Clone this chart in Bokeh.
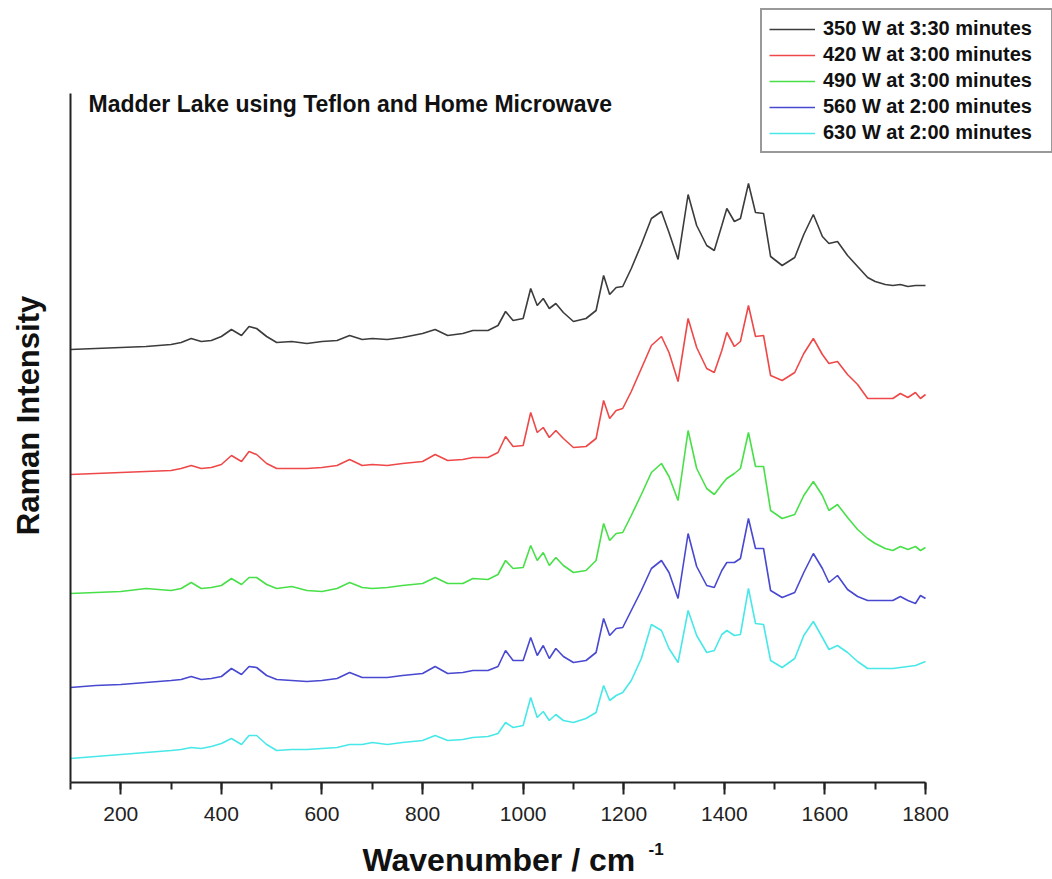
from math import pi

from bokeh.embed import file_html
from bokeh.models import FixedTicker, Label, Range1d, SingleIntervalTicker
from bokeh.plotting import figure
from bokeh.resources import INLINE

# Raman spectra of madder lake prepared at different microwave power settings.
# Intensities are in arbitrary units, already offset vertically for stacking.
wavenumber = [
    100, 150, 200, 250, 300, 320, 340, 360, 380, 400,
    420, 440, 455, 470, 490, 510, 540, 570, 600, 630,
    655, 680, 700, 730, 760, 800, 825, 850, 880, 900,
    930, 950, 965, 980, 1000, 1015, 1028, 1040, 1052, 1065,
    1080, 1100, 1125, 1145, 1160, 1172, 1185, 1198, 1215, 1235,
    1255, 1275, 1290, 1308, 1328, 1345, 1365, 1380, 1395, 1405,
    1420, 1432, 1448, 1462, 1478, 1492, 1515, 1540, 1558, 1577,
    1595, 1608, 1625, 1645, 1665, 1685, 1700, 1720, 1735, 1750,
    1765, 1780, 1790, 1800,
]

w350 = [
    433, 434, 435, 436, 438, 440, 444, 441, 442, 446,
    453, 447, 456, 454, 446, 440, 441, 439, 441, 442,
    447, 443, 444, 443, 445, 449, 453, 447, 449, 452,
    452, 457, 471, 462, 464, 494, 477, 484, 474, 479,
    470, 461, 464, 472, 507, 488, 495, 496, 514, 538,
    564, 571, 550, 523, 588, 557, 537, 532, 557, 574,
    561, 564, 599, 570, 569, 526, 517, 525, 548, 568,
    546, 539, 541, 527, 516, 505, 501, 498, 497, 498,
    496, 497, 497, 497,
]

w420 = [
    308, 309, 310, 311, 312, 314, 317, 314, 315, 318,
    327, 321, 331, 328, 319, 314, 314, 314, 315, 317,
    323, 317, 318, 317, 319, 321, 328, 322, 323, 325,
    325, 330, 346, 336, 337, 370, 350, 355, 345, 352,
    344, 335, 336, 344, 382, 364, 372, 374, 391, 414,
    437, 446, 430, 401, 464, 435, 414, 410, 432, 450,
    436, 441, 477, 446, 447, 407, 402, 410, 429, 444,
    428, 419, 421, 408, 398, 384, 384, 384, 384, 389,
    385, 390, 384, 388,
]

w490 = [
    189, 190, 191, 194, 192, 194, 200, 194, 195, 197,
    204, 198, 205, 205, 198, 194, 196, 192, 191, 194,
    200, 195, 194, 195, 197, 199, 205, 199, 199, 204,
    203, 208, 222, 214, 215, 237, 222, 230, 217, 225,
    217, 210, 212, 222, 259, 242, 249, 250, 267, 288,
    310, 319, 306, 282, 352, 314, 294, 288, 298, 304,
    309, 314, 350, 316, 316, 272, 264, 268, 287, 301,
    287, 272, 278, 265, 253, 244, 239, 234, 232, 236,
    233, 236, 232, 235,
]

w560 = [
    95, 97, 98, 100, 102, 103, 106, 103, 104, 106,
    114, 108, 116, 115, 107, 103, 102, 101, 102, 104,
    110, 105, 105, 105, 107, 109, 116, 109, 110, 112,
    112, 116, 132, 122, 122, 145, 127, 137, 124, 134,
    126, 120, 122, 130, 164, 147, 154, 155, 172, 192,
    214, 222, 210, 184, 249, 216, 197, 195, 212, 220,
    220, 224, 264, 234, 234, 192, 185, 190, 210, 229,
    214, 200, 207, 193, 186, 182, 182, 182, 182, 186,
    182, 179, 187, 184,
]

w630 = [
    24, 26, 28, 30, 32, 33, 35, 34, 36, 39,
    44, 38, 47, 47, 38, 32, 33, 33, 34, 35,
    38, 38, 40, 38, 40, 42, 47, 42, 43, 45,
    46, 49, 60, 55, 57, 85, 65, 71, 62, 68,
    62, 60, 64, 70, 97, 82, 87, 90, 102, 124,
    158, 152, 134, 120, 172, 147, 130, 132, 148, 152,
    147, 148, 194, 159, 158, 122, 115, 124, 147, 161,
    145, 133, 137, 130, 121, 114, 114, 114, 114, 115,
    116, 117, 119, 121,
]

series_labels = [
    "350 W at 3:30 minutes",
    "420 W at 3:00 minutes",
    "490 W at 3:00 minutes",
    "560 W at 2:00 minutes",
    "630 W at 2:00 minutes",
]
series_values = [w350, w420, w490, w560, w630]
series_colors = ["#3c3c3c", "#ee4848", "#48e048", "#4848d0", "#48e8e8"]

x_bounds = (100, 1800)
y_bounds = (0, 689)

FONT = "Liberation Sans"
TEXT = "#111111"
AXIS = "#222222"

# Canvas geometry (px): the data frame fills the canvas to the right and top
# edges so the legend and the inner title are never clipped; the axes are
# limited to the data bounds.
W, H = 1052, 879
LEFT, BOTTOM = 70, 97
AXIS_RIGHT_PX = 925
AXIS_TOP_PX = 93

x_scale = (AXIS_RIGHT_PX - LEFT) / (x_bounds[1] - x_bounds[0])
x_end = x_bounds[0] + (W - LEFT) / x_scale
y_scale = (H - BOTTOM - AXIS_TOP_PX) / (y_bounds[1] - y_bounds[0])
y_end = y_bounds[0] + (H - BOTTOM) / y_scale


def at_px(px, py):
    """Canvas pixel position -> data coordinates of the main scales."""
    return x_bounds[0] + (px - LEFT) / x_scale, y_bounds[0] + (H - BOTTOM - py) / y_scale


p = figure(
    width=W,
    height=H,
    x_range=Range1d(x_bounds[0], x_end),
    y_range=Range1d(y_bounds[0], y_end),
    output_backend="svg",
    toolbar_location=None,
    min_border_left=LEFT,
    min_border_right=0,
    min_border_top=0,
    min_border_bottom=BOTTOM,
)
p.outline_line_color = None
p.xgrid.visible = False
p.ygrid.visible = False
p.background_fill_color = "white"
p.border_fill_color = "white"

for label, vals, color in zip(series_labels, series_values, series_colors):
    assert len(vals) == len(wavenumber)
    p.line(wavenumber, vals, line_color=color, line_width=1.6, legend_label=label)

# bottom axis
xa = p.xaxis[0]
xa.bounds = x_bounds
xa.ticker = SingleIntervalTicker(interval=200, num_minor_ticks=2)
xa.axis_line_width = 2
xa.axis_line_color = AXIS
xa.major_tick_line_width = 2
xa.minor_tick_line_width = 2
xa.major_tick_line_color = AXIS
xa.minor_tick_line_color = AXIS
xa.major_tick_out = 12
xa.major_tick_in = 0
xa.minor_tick_out = 7
xa.minor_tick_in = 0
xa.major_label_text_font = FONT
xa.major_label_text_font_size = "21px"
xa.major_label_text_color = AXIS
xa.major_label_standoff = 12

# left axis: a bare line, no ticks
ya = p.yaxis[0]
ya.bounds = y_bounds
ya.ticker = FixedTicker(ticks=[])
ya.axis_line_width = 2
ya.axis_line_color = AXIS
ya.major_label_text_font_size = "0px"

# axis titles, placed through the data scales so they sit outside the frame
tx, ty = at_px(362, 859)
p.add_layout(Label(
    x=tx, y=ty, text="Wavenumber / cm",
    text_font=FONT, text_font_style="bold", text_font_size="32px",
    text_color=TEXT, text_align="left", text_baseline="middle",
), "below")

sx, sy = at_px(648, 848)
p.add_layout(Label(
    x=sx, y=sy, text="-1",
    text_font=FONT, text_font_style="bold", text_font_size="17px",
    text_color=TEXT, text_align="left", text_baseline="middle",
), "left")

rx, ry = at_px(28, 415)
p.add_layout(Label(
    x=rx, y=ry, text="Raman Intensity", angle=pi / 2,
    text_font=FONT, text_font_style="bold", text_font_size="31px",
    text_color=TEXT, text_align="center", text_baseline="middle",
), "left")

p.add_layout(Label(
    x=18, y=679, x_units="screen", y_units="screen",
    text="Madder Lake using Teflon and Home Microwave",
    text_font=FONT, text_font_style="bold", text_font_size="23px",
    text_color=TEXT, text_align="left", text_baseline="middle",
))

lg = p.legend[0]
lg.location = (690, 629)
lg.margin = 0
lg.padding = 7
lg.spacing = 3
lg.glyph_width = 46
lg.glyph_height = 20
lg.label_height = 20
lg.label_width = 221
lg.label_standoff = 8
lg.label_text_font = FONT
lg.label_text_font_style = "bold"
lg.label_text_font_size = "20px"
lg.label_text_color = TEXT
lg.border_line_color = "#333333"
lg.border_line_width = 2
lg.background_fill_color = "white"
lg.background_fill_alpha = 1.0

open("out.html", "w").write(file_html(p, INLINE))
